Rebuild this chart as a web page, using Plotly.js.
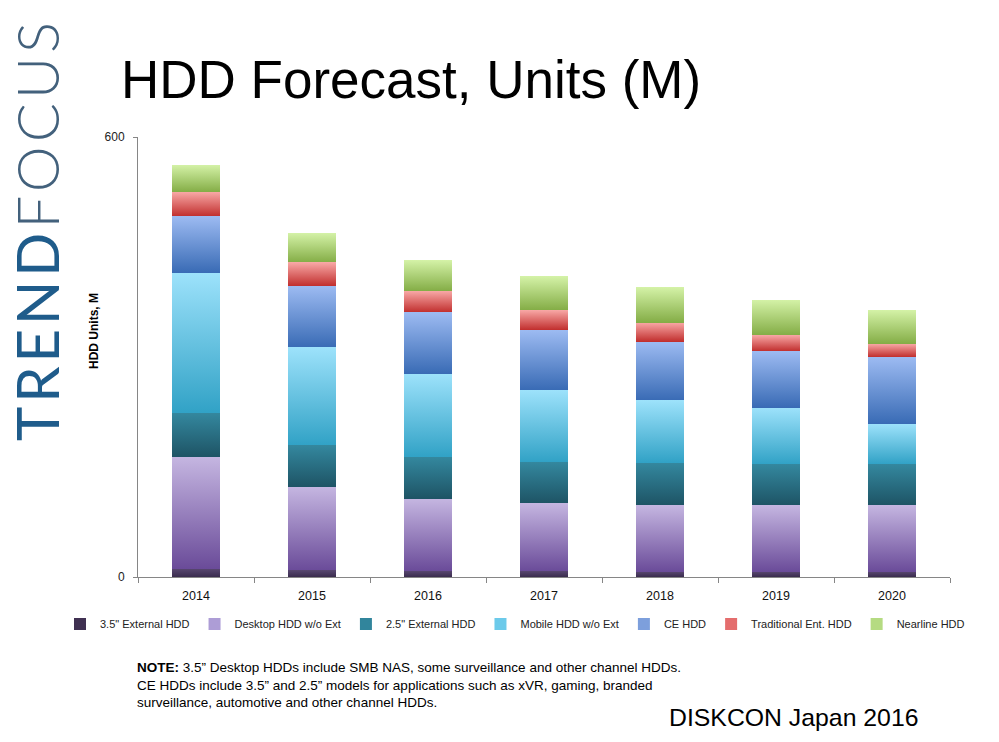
<!DOCTYPE html>
<html><head><meta charset="utf-8">
<script src="https://cdn.plot.ly/plotly-3.0.1.min.js"></script>
<style>html,body{margin:0;padding:0;background:#fff}#chart{width:999px;height:742px}</style>
</head><body><div id="chart"></div>
<script>
// ---- data ----
const years = ['2014','2015','2016','2017','2018','2019','2020'];
const ext35 = [11, 9, 8, 8, 7, 7, 7];
const desktop = [153, 114, 99, 93, 91, 91, 91];
const ext25 = [60, 57, 57, 56, 58, 56, 56];
const mobile = [191, 133, 113, 98, 85, 77, 55];
const ceHdd = [77, 84, 84, 82, 80, 77, 91];
const tradEnt = [33, 32, 29, 27, 26, 22, 18];
const nearline = [37, 40, 42, 46, 48, 48, 46];
const seriesNames = ['3.5" External HDD','Desktop HDD w/o Ext','2.5" External HDD','Mobile HDD w/o Ext','CE HDD','Traditional Ent. HDD','Nearline HDD'];
const yTicks = [0, 600];

// ---- styles ----
const seriesValues = [ext35, desktop, ext25, mobile, ceHdd, tradEnt, nearline];
const solidColors = ['#403152','#ad9dd6','#31859c','#6ccaea','#7d9fdc','#e46d6d','#b5db82'];
const gradStops = [
  ['#57466f','#3a2c4e'],
  ['#c5b6e1','#6a4b99'],
  ['#34889f','#1e5465'],
  ['#9de2fb','#31a2c6'],
  ['#9dbbf2','#396bb5'],
  ['#f8a8a6','#c12f2e'],
  ['#d4f2a7','#84ad46']
];
const L = 138, R = 950, T = 137, B = 577;
const px = x => (x - L) / (R - L);
const py = y => (B - y) / (B - T);
const FONT = 'Liberation Sans, Arial, sans-serif';

const data = seriesValues.map((vals, i) => ({
  type: 'bar', x: years, y: vals, name: seriesNames[i],
  marker: {color: solidColors[i], line: {width: 0}},
  hoverinfo: 'skip'
}));

const layout = {
  width: 999, height: 742,
  margin: {l: L, r: 999 - R, t: T, b: 742 - B},
  paper_bgcolor: '#fff', plot_bgcolor: '#fff',
  barmode: 'stack', bargap: 0.585,
  showlegend: true,
  legend: {orientation: 'h', x: px(60), xanchor: 'left', y: py(624), yanchor: 'middle',
           font: {family: FONT, size: 11, color: '#222'},
           itemwidth: 30, tracegroupgap: 0, traceorder: 'normal'},
  title: {text: 'HDD Forecast, Units (M)', x: 121/999, xanchor: 'left', xref: 'container',
          y: 1 - 79/742, yanchor: 'middle', yref: 'container',
          font: {family: FONT, size: 53, color: '#000'}},
  xaxis: {type: 'category', showline: true, linecolor: '#868686', linewidth: 1,
          ticks: 'outside', tickson: 'boundaries', ticklen: 5, tickcolor: '#868686',
          ticklabelstandoff: 7,
          tickfont: {family: FONT, size: 12.5, color: '#111'}, showgrid: false, zeroline: false,
          fixedrange: true},
  yaxis: {range: [0, 600], tickvals: yTicks, ticktext: yTicks.map(String),
          showline: true, linecolor: '#868686', linewidth: 1,
          ticks: 'outside', ticklen: 4, tickcolor: '#868686', ticklabelstandoff: 6,
          showgrid: true, gridcolor: '#868686', gridwidth: 1, zeroline: false,
          tickfont: {family: FONT, size: 12, color: '#222'}, fixedrange: true},
  annotations: [
    {text: '<span style="font-weight:400;letter-spacing:4px">TREND</span><span style="font-weight:300;letter-spacing:4px;fill:#43617c">FOCUS</span>',
     xref: 'paper', yref: 'paper', x: px(37), y: py(230), xanchor: 'center', yanchor: 'middle',
     textangle: -90, showarrow: false,
     font: {family: 'Lato, Liberation Sans, Arial, sans-serif', size: 58, color: '#1f5c8b'}},
    {text: '<b>HDD Units, M</b>', xref: 'paper', yref: 'paper', x: px(94), y: py(331),
     xanchor: 'center', yanchor: 'middle', textangle: -90, showarrow: false,
     font: {family: FONT, size: 12, color: '#000'}},
    {text: '<b>NOTE:</b> 3.5” Desktop HDDs include SMB NAS, some surveillance and other channel HDDs.<br>CE HDDs include 3.5” and 2.5” models for applications such as xVR, gaming, branded<br>surveillance, automotive and other channel HDDs.',
     xref: 'paper', yref: 'paper', x: px(135), y: py(658), xanchor: 'left', yanchor: 'top',
     align: 'left', showarrow: false,
     font: {family: FONT, size: 13.5, color: '#000'}},
    {text: 'DISKCON Japan 2016', xref: 'paper', yref: 'paper', x: px(667), y: py(717),
     xanchor: 'left', yanchor: 'middle', showarrow: false,
     font: {family: FONT, size: 24.8, color: '#000'}}
  ]
};

Plotly.newPlot('chart', data, layout, {staticPlot: true, displayModeBar: false}).then(gd => {
  const ns = 'http://www.w3.org/2000/svg';
  const svg = gd.querySelector('.main-svg');
  let defs = svg.querySelector('defs');
  if (!defs) { defs = document.createElementNS(ns, 'defs'); svg.insertBefore(defs, svg.firstChild); }
  gradStops.forEach((g, i) => {
    const lg = document.createElementNS(ns, 'linearGradient');
    lg.setAttribute('id', 'hddgrad' + i);
    lg.setAttribute('x1', '0'); lg.setAttribute('y1', '0');
    lg.setAttribute('x2', '0'); lg.setAttribute('y2', '1');
    [[0, g[0]], [1, g[1]]].forEach(([o, c]) => {
      const s = document.createElementNS(ns, 'stop');
      s.setAttribute('offset', o); s.setAttribute('stop-color', c);
      lg.appendChild(s);
    });
    defs.appendChild(lg);
  });
  gd.querySelectorAll('.barlayer .trace').forEach((tr, i) => {
    tr.querySelectorAll('path').forEach(p => { p.style.fill = 'url(#hddgrad' + i + ')'; });
  });
});
</script>
</body></html>
